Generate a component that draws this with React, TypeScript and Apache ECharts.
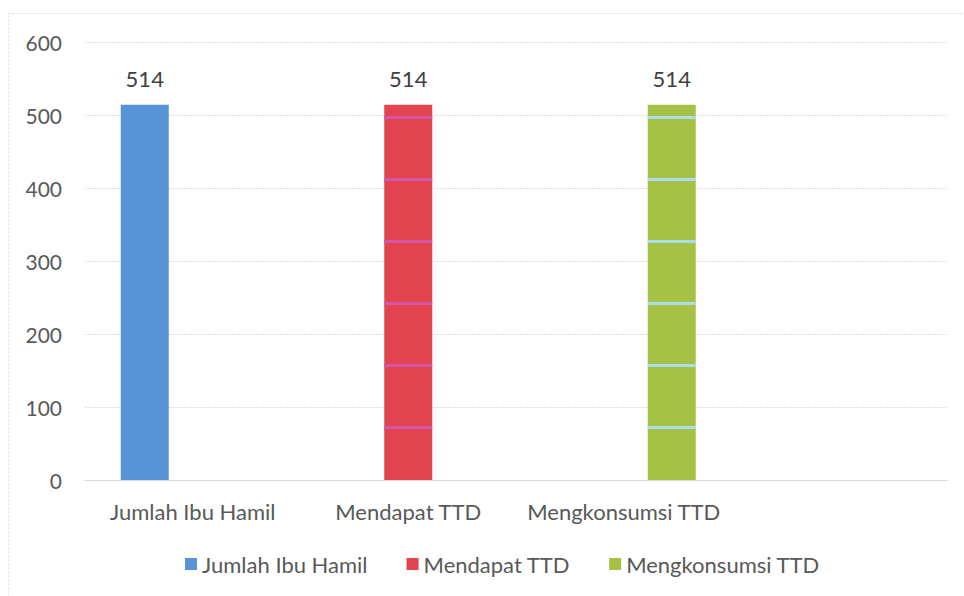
import React, { useEffect, useRef } from "react";
import * as echarts from "echarts";

const categories = ["Jumlah Ibu Hamil", "Mendapat TTD", "Mengkonsumsi TTD", ""];
const seriesNames = ["Jumlah Ibu Hamil", "Mendapat TTD", "Mengkonsumsi TTD"];
const seriesValues = [514, 514, 514];
const yTicks = { min: 0, max: 600, interval: 100 };

const colors = ["#5895d6", "#e1434f", "#a6c146"];
const stripeColors = [null, "#d455a6", "#a9dde8"];

const FONT = "Lato, 'Noto Sans', sans-serif";

export default function App() {
  const ref = useRef<HTMLDivElement>(null);
  useEffect(() => {
    if (!ref.current) return;
    const chart = echarts.init(ref.current, null, { renderer: "svg" });
    const series = seriesNames.map((name, i) => {
      const data = categories.map((_, j) => (j === i ? seriesValues[i] : null));
      const itemStyle: any = { color: colors[i] };
      if (stripeColors[i]) {
        itemStyle.decal = {
          symbol: "rect",
          symbolSize: 1,
          color: stripeColors[i],
          dashArrayX: [1, 0],
          dashArrayY: [0, 54, 3, 5],
        };
      }
      return {
        name,
        type: "bar",
        data,
        barWidth: 48,
        barGap: "0%",
        itemStyle,
        label: {
          show: true,
          position: "top",
          distance: 15,
          color: "#404040",
          fontSize: 22,
          fontFamily: FONT,
        },
      };
    });
    chart.setOption({
      animation: false,
      backgroundColor: "#ffffff",
      textStyle: { fontFamily: FONT },
      grid: { left: 85, right: 17, top: 42, bottom: 116 },
      xAxis: {
        type: "category",
        data: categories,
        axisLine: { show: true, lineStyle: { color: "#d9d9d9" } },
        axisTick: { show: false },
        axisLabel: { color: "#595959", fontSize: 22, fontFamily: FONT, margin: 20, interval: 0 },
      },
      yAxis: {
        type: "value",
        min: yTicks.min,
        max: yTicks.max,
        interval: yTicks.interval,
        axisLine: { show: false },
        axisTick: { show: false },
        axisLabel: { color: "#595959", fontSize: 21, fontFamily: FONT, margin: 23 },
        splitLine: { lineStyle: { color: "#dedede", type: [2, 1] } },
      },
      legend: {
        bottom: 16,
        left: 180,
        itemWidth: 12,
        itemHeight: 12,
        itemGap: 39,
        icon: "rect",
        textStyle: { color: "#595959", fontSize: 22, fontFamily: FONT },
        data: seriesNames,
      },
      graphic: [
        {
          type: "rect",
          shape: { x: 8.5, y: 13.5, width: 1000, height: 1000 },
          style: { fill: "none", stroke: "#dcdcdc", lineWidth: 1, lineDash: [2, 2] },
          silent: true,
        },
      ],
      series,
    });
    return () => chart.dispose();
  }, []);
  return (
    <div
      ref={ref}
      style={{ position: "absolute", left: 0, top: 0, width: 964, height: 596 }}
    />
  );
}
